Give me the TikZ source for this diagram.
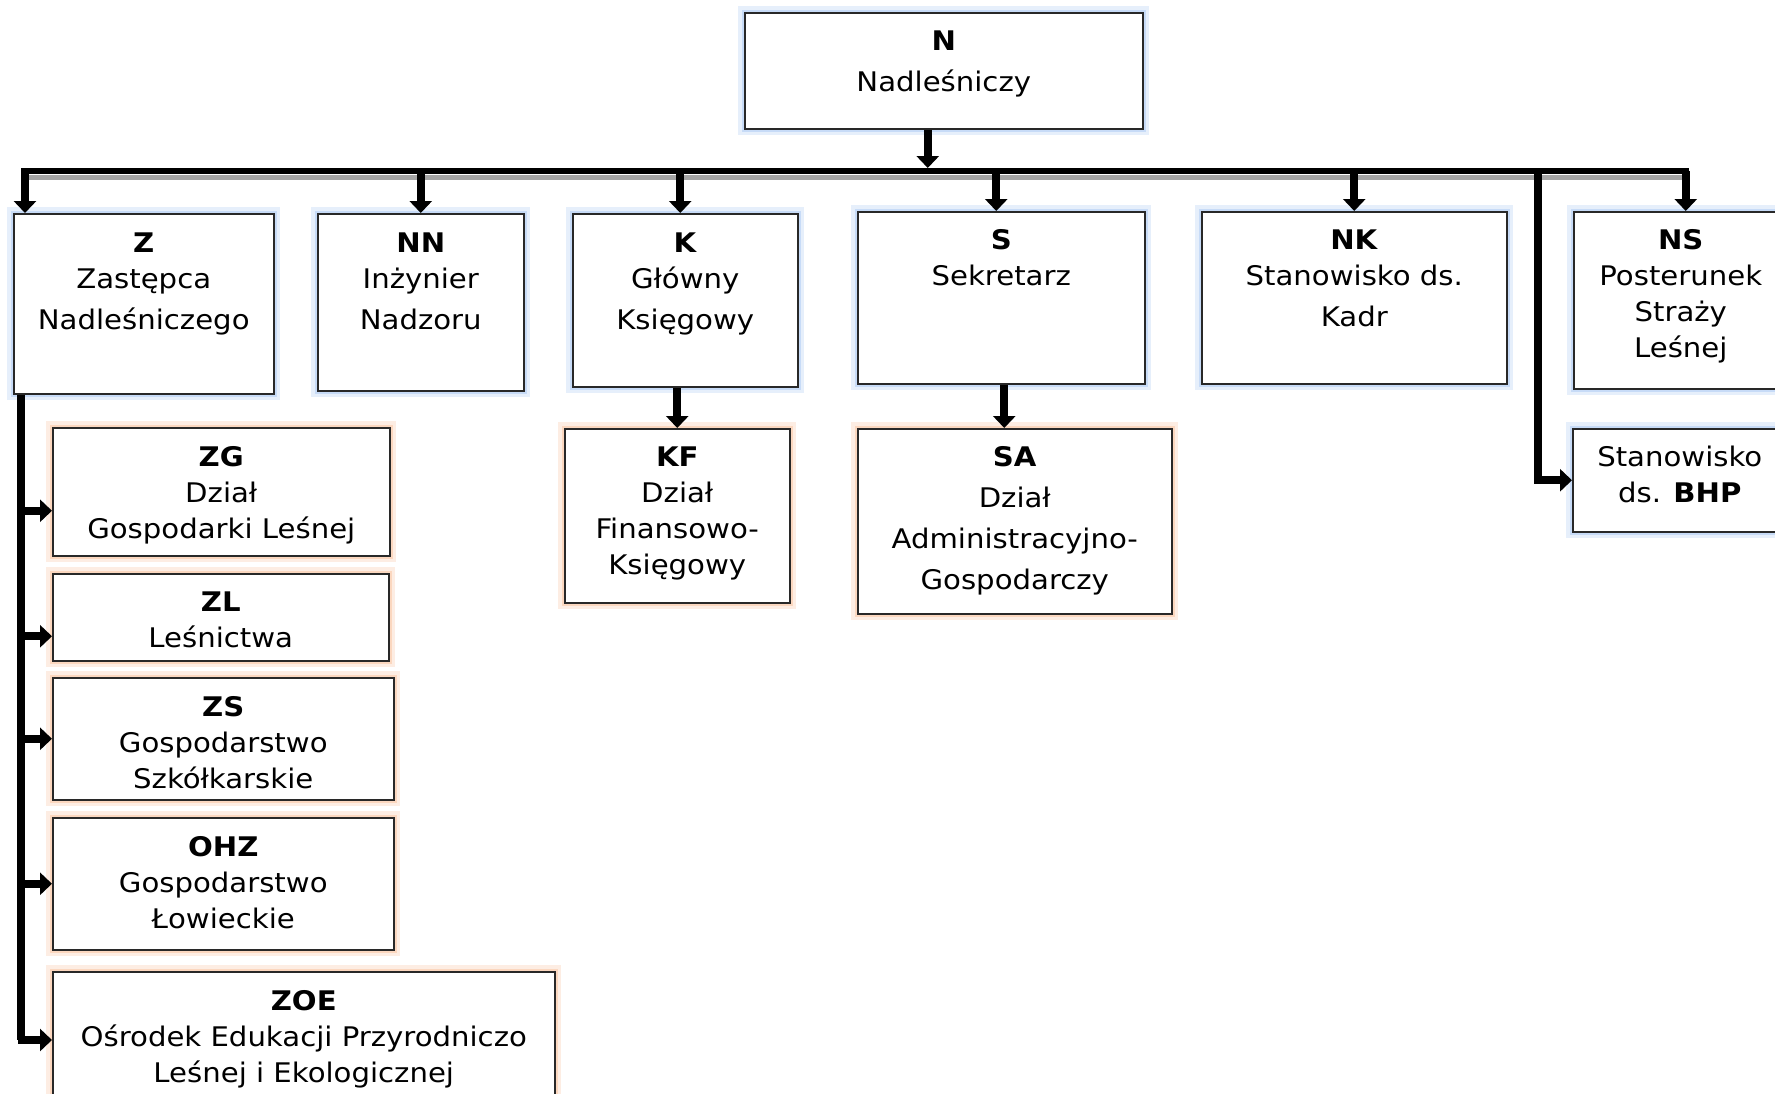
\documentclass[tikz,border=0pt]{standalone}
\usepackage{fontspec}
\setmainfont[FakeStretch=1.08]{DejaVu Sans}
\usetikzlibrary{arrows.meta,positioning}

\definecolor{glowblue}{RGB}{185,210,245}
\definecolor{gloworange}{RGB}{250,205,175}
\definecolor{edge}{RGB}{40,40,40}
\definecolor{shade}{RGB}{165,165,165}

\tikzset{every picture/.style={line width=1.5pt}}
\tikzset{
glow/.style={preaction={draw=#1!35, line width=13pt}, preaction={draw=#1!80, line width=6pt}},
unit/.style={draw=edge, fill=white, line width=1.5pt, anchor=north west, inner sep=0pt, glow=glowblue},
subunit/.style={draw=edge, fill=white, line width=1.5pt, anchor=north west, inner sep=0pt, glow=gloworange},
caption/.style={anchor=north, align=center, inner sep=0pt, font=\fontsize{27}{36}\selectfont},
wide caption/.style={caption, font=\fontsize{27}{41}\selectfont},
busline/.style={line width=6pt},
shadowline/.style={draw=shade, line width=5pt},
stem/.style={line width=7.5pt},
arr/.style={line width=8pt, -{Triangle[width=22pt,length=12pt]}}}

\begin{document}
\begin{tikzpicture}[x=1pt,y=1pt,yscale=-1,xscale=1]
\useasboundingbox (0,0) rectangle (1775,1093);

% Boxes, first level
\node [unit, minimum width=398, minimum height=116] (N) at (744,12) {};
\node [unit, minimum width=260, minimum height=180] (Z) at (13,213) {};
\node [unit, minimum width=206, minimum height=177] (NN) at (317,213) {};
\node [unit, minimum width=225, minimum height=173] (K) at (572,213) {};
\node [unit, minimum width=287, minimum height=172] (S) at (857,211) {};
\node [unit, minimum width=305, minimum height=172] (NK) at (1201,211) {};
\node [unit, minimum width=214, minimum height=177] (NS) at (1573,211) {};
\node [unit, minimum width=214, minimum height=103] (BHP) at (1572,428) {};

% Boxes, second level
\node [subunit, minimum width=337, minimum height=128] (ZG) at (52,427) {};
\node [subunit, minimum width=336, minimum height=87] (ZL) at (52,573) {};
\node [subunit, minimum width=341, minimum height=122] (ZS) at (52,677) {};
\node [subunit, minimum width=341, minimum height=132] (OHZ) at (52,817) {};
\node [subunit, minimum width=502, minimum height=150] (ZOE) at (52,971) {};
\node [subunit, minimum width=225, minimum height=174] (KF) at (564,428) {};
\node [subunit, minimum width=314, minimum height=185] (SA) at (857,428) {};

% Text Nodes
\node [wide caption] (tN) at ([yshift=18pt]N.north) {\textbf{N}\\Nadleśniczy};
\node [caption] (tZ) at ([yshift=19pt]Z.north) {\textbf{Z}\\Zastępca\\[5pt]Nadleśniczego};
\node [caption] (tNN) at ([yshift=19pt]NN.north) {\textbf{NN}\\Inżynier\\[5pt]Nadzoru};
\node [caption] (tK) at ([yshift=19pt]K.north) {\textbf{K}\\Główny\\[5pt]Księgowy};
\node [caption] (tS) at ([yshift=18pt]S.north) {\textbf{S}\\Sekretarz};
\node [caption] (tNK) at ([yshift=18pt]NK.north) {\textbf{NK}\\Stanowisko ds.\\[5pt]Kadr};
\node [caption] (tNS) at ([yshift=18pt]NS.north) {\textbf{NS}\\Posterunek\\Straży\\Leśnej};
\node [caption] (tBHP) at ([yshift=17pt]BHP.north) {Stanowisko\\ds. \textbf{BHP}};
\node [caption] (tZG) at ([yshift=19pt]ZG.north) {\textbf{ZG}\\Dział\\Gospodarki Leśnej};
\node [caption] (tZL) at ([yshift=18pt]ZL.north) {\textbf{ZL}\\Leśnictwa};
\node [caption] (tZS) at ([yshift=19pt]ZS.north) {\textbf{ZS}\\Gospodarstwo\\Szkółkarskie};
\node [caption] (tOHZ) at ([yshift=19pt]OHZ.north) {\textbf{OHZ}\\Gospodarstwo\\Łowieckie};
\node [caption] (tZOE) at ([yshift=19pt]ZOE.north) {\textbf{ZOE}\\Ośrodek Edukacji Przyrodniczo\\Leśnej i Ekologicznej};
\node [caption] (tKF) at ([yshift=18pt]KF.north) {\textbf{KF}\\Dział\\Finansowo-\\Księgowy};
\node [wide caption] (tSA) at ([yshift=18pt]SA.north) {\textbf{SA}\\Dział\\Administracyjno-\\Gospodarczy};

% Bus
\coordinate (busW) at (21,171);
\coordinate (busE) at (1689,171);
\draw [shadowline] ([yshift=6pt,xshift=8pt]busW) -- ([yshift=6pt]busE);
\draw [busline] (busW) -- (busE);

% Connectors
\coordinate (nOut) at ([xshift=-16pt]N.south);
\draw [arr] (nOut) -- ([yshift=-3pt]nOut |- busW);
\coordinate (zIn) at ([xshift=12pt]Z.north west);
\draw [arr] (zIn |- busW) -- (zIn);
\draw [arr] (busW -| NN.north) -- (NN.north);
\draw [arr] ([xshift=-5pt]busW -| K.north) -- ([xshift=-5pt]K.north);
\draw [arr] ([xshift=-5pt]busW -| S.north) -- ([xshift=-5pt]S.north);
\draw [arr] (busW -| NK.north) -- (NK.north);
\draw [arr] ([xshift=5pt]busW -| NS.north) -- ([xshift=5pt]NS.north);
\coordinate (bhpStem) at ([xshift=-34pt]BHP.west);
\draw [arr] (busW -| bhpStem) -- (bhpStem) -- (BHP.west);
\draw [arr] (K.south -| KF.north) -- (KF.north);
\draw [arr] ([xshift=3pt]S.south) -- ([xshift=3pt]S.south |- SA.north);

% Connectors under Z
\coordinate (zStem) at ([xshift=8pt]Z.south west);
\coordinate (zgIn) at ([yshift=19pt]ZG.west);
\coordinate (zlIn) at ([yshift=19pt]ZL.west);
\coordinate (zoeIn) at ([yshift=69pt]ZOE.north west);
\draw [stem] (zStem) -- (zStem |- zoeIn);
\draw [arr] ([xshift=-3pt]zStem |- zgIn) -- (zgIn);
\draw [arr] ([xshift=-3pt]zStem |- zlIn) -- (zlIn);
\draw [arr] ([xshift=-3pt]zStem |- ZS.west) -- (ZS.west);
\draw [arr] ([xshift=-3pt]zStem |- OHZ.west) -- (OHZ.west);
\draw [arr] ([xshift=-3pt]zStem |- zoeIn) -- (zoeIn);

\end{tikzpicture}
\end{document}
